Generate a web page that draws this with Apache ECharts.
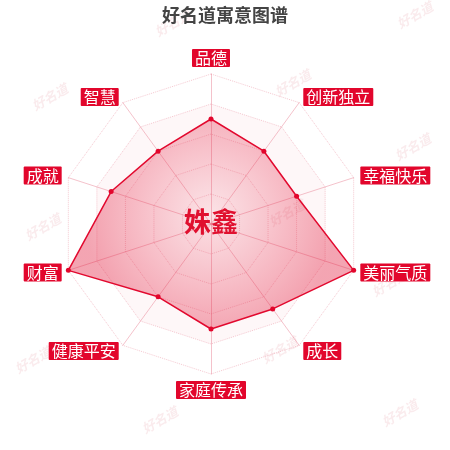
<!DOCTYPE html>
<html>
<head>
<meta charset="utf-8">
<script src="https://cdn.jsdelivr.net/npm/echarts@6/dist/echarts.min.js"></script>
<style>
  html, body { margin: 0; padding: 0; background: #fff; }
  #chart { width: 450px; height: 450px; }
</style>
</head>
<body>
<div id="chart"></div>
<script>
// indicators go counter-clockwise from the top, like echarts draws them
var indicatorNames = ["品德", "智慧", "成就", "财富", "健康平安", "家庭传承", "成长", "美丽气质", "幸福快乐", "创新独立"];
var scoreValues = [70, 60, 70, 100, 60, 70, 70, 100, 60, 60];
var maxScore = 100;
var nameText = "姝鑫";
var titleText = "好名道寓意图谱";

// watermark spots
var markX = [173, 415, 50, 293, 413, 43, 287, 390, 33, 280, 160, 400];
var markY = [23, 15, 97, 83, 147, 227, 213, 283, 360, 350, 420, 413];

var myChart = echarts.init(document.getElementById("chart"));

var indicators = [];
for (var i = 0; i < indicatorNames.length; i++) {
  indicators.push({ name: indicatorNames[i], max: maxScore });
}

var marks = [];
for (var j = 0; j < markX.length; j++) {
  marks.push({
    type: "text",
    x: markX[j],
    y: markY[j],
    rotation: Math.PI / 6,
    z: 0,
    style: {
      text: "好名道",
      fill: "rgba(215, 90, 110, 0.12)",
      font: "italic bold 13px 'Noto Sans CJK SC'",
      align: "center",
      verticalAlign: "middle"
    }
  });
}
marks.push({
  type: "text",
  x: 211,
  y: 222,
  z: 100,
  style: {
    text: nameText,
    fill: "#e0102f",
    font: "bold 27px 'Noto Sans CJK SC'",
    align: "center",
    verticalAlign: "middle"
  }
});

var option = {
  backgroundColor: "#fff",
  title: {
    text: titleText,
    left: "center",
    top: 1,
    textStyle: {
      fontSize: 18,
      fontWeight: "bold",
      color: "#444",
      fontFamily: "Noto Sans CJK SC"
    }
  },
  graphic: marks,
  radar: {
    center: [211, 224],
    radius: 150,
    shape: "polygon",
    splitNumber: 5,
    indicator: indicators,
    nameGap: 7,
    axisName: {
      color: "#fff",
      backgroundColor: "#e2062c",
      fontSize: 16,
      fontFamily: "Noto Sans CJK SC",
      padding: [1, 3],
      borderRadius: 1
    },
    axisLine: {
      lineStyle: { color: "rgba(230, 120, 140, 0.45)", width: 1 }
    },
    splitLine: {
      lineStyle: { color: "rgba(230, 120, 140, 0.4)", type: "dotted", width: 1 }
    },
    splitArea: {
      show: true,
      areaStyle: {
        color: [
          "rgba(235, 90, 115, 0.09)",
          "rgba(235, 90, 115, 0.08)",
          "rgba(235, 90, 115, 0.07)",
          "rgba(235, 90, 115, 0.05)",
          "rgba(255, 255, 255, 0)"
        ]
      }
    }
  },
  series: [
    {
      type: "radar",
      symbol: "circle",
      symbolSize: 5,
      z: 5,
      data: [
        {
          value: scoreValues,
          itemStyle: { color: "#e2062c" },
          lineStyle: { color: "#e2062c", width: 1.5 },
          areaStyle: {
            color: {
              type: "radial",
              x: 0.5,
              y: 0.45,
              r: 0.6,
              colorStops: [
                { offset: 0, color: "rgba(230, 40, 70, 0.1)" },
                { offset: 1, color: "rgba(225, 20, 55, 0.55)" }
              ]
            }
          }
        }
      ]
    }
  ]
};

myChart.setOption(option);
</script>
</body>
</html>
